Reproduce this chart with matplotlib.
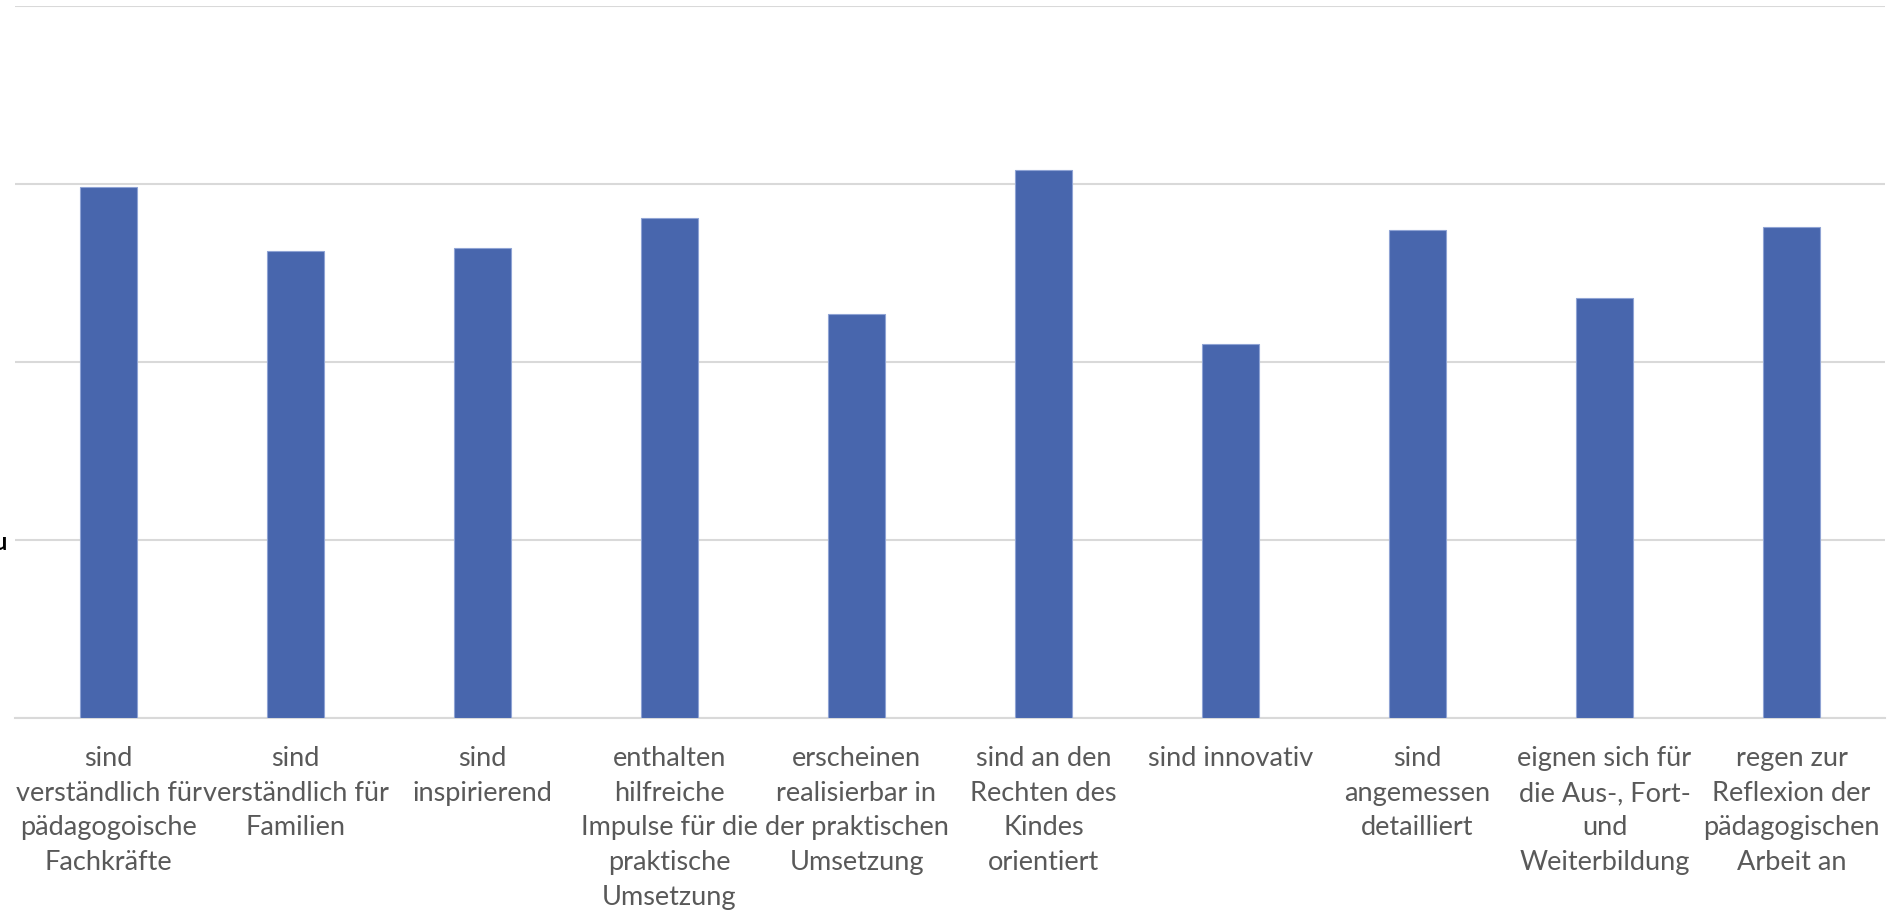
import matplotlib
matplotlib.use("Agg")
import matplotlib.pyplot as plt

categories = [
    "sind\nverständlich für\npädagogoische\nFachkräfte",
    "sind\nverständlich für\nFamilien",
    "sind\ninspirierend",
    "enthalten\nhilfreiche\nImpulse für die\npraktische\nUmsetzung",
    "erscheinen\nrealisierbar in\nder praktischen\nUmsetzung",
    "sind an den\nRechten des\nKindes\norientiert",
    "sind innovativ",
    "sind\nangemessen\ndetailliert",
    "eignen sich für\ndie Aus-, Fort-\nund\nWeiterbildung",
    "regen zur\nReflexion der\npädagogischen\nArbeit an",
]
values = [2.98, 2.62, 2.64, 2.81, 2.27, 3.08, 2.10, 2.74, 2.36, 2.76]
ytick_values = [0, 1, 2, 3, 4]
ytick_labels = ["", "u", "", "", ""]

plt.rcParams['font.family'] = ['Lato', 'DejaVu Sans']

fig = plt.figure(figsize=(18.98, 9.12), dpi=100)
ax = fig.add_axes([15/1898, 1 - 718.5/912, 1870/1898, (718.5-7)/912])

x = list(range(len(categories)))
ax.bar(x, values, width=0.31, color='#4866AD', edgecolor='#8FA3D4', linewidth=0.8, zorder=3)

ax.set_xlim(-0.5, len(categories) - 0.5)
ax.set_ylim(0, 4)
ax.set_yticks(ytick_values)
ax.set_yticklabels(ytick_labels, fontsize=17, color='black', fontweight='bold')
ax.tick_params(axis='y', length=0, pad=6)
ax.yaxis.grid(True, color='#D9D9D9', linewidth=1.5, zorder=0)
ax.set_axisbelow(True)

ax.set_xticks(x)
ax.set_xticklabels(categories, fontsize=19.5, color='#595959', linespacing=1.48)
ax.tick_params(axis='x', length=0, pad=20)

for s in ['top', 'right', 'left']:
    ax.spines[s].set_visible(False)
ax.spines['bottom'].set_color('#D9D9D9')
ax.spines['bottom'].set_linewidth(1.5)

fig.savefig('out.png', dpi=100, facecolor='white')
